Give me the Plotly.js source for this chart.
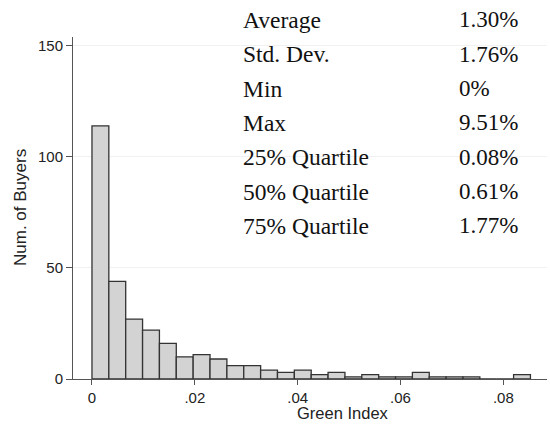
<!DOCTYPE html>
<html>
<head>
<meta charset="utf-8">
<script src="https://cdn.plot.ly/plotly-3.0.1.min.js"></script>
<style>html,body{margin:0;padding:0;background:#fff;}#chart{width:550px;height:430px;}</style>
</head>
<body>
<div id="chart"></div>
<script>
// Histogram bins (Green Index), counts
const binStart = 0;
const binWidth = 0.00328;
const counts = [114, 44, 27, 22, 16, 10, 11, 9, 6, 6, 4, 3, 4, 2, 3, 1, 2, 1, 1, 3, 1, 1, 1, 0, 0, 2];

// Axis ticks
const xTickVals = [0, 0.02, 0.04, 0.06, 0.08];
const xTickText = ["0", ".02", ".04", ".06", ".08"];
const yTickVals = [0, 50, 100, 150];
const yTickText = ["0", "50", "100", "150"];

// Summary statistics table
const statLabels = ["Average", "Std. Dev.", "Min", "Max", "25% Quartile", "50% Quartile", "75% Quartile"];
const statValues = ["1.30%", "1.76%", "0%", "9.51%", "0.08%", "0.61%", "1.77%"];

const binCenters = counts.map((c, i) => binStart + (i + 0.5) * binWidth);

const trace = {
  type: "bar",
  x: binCenters,
  y: counts,
  width: counts.map(() => binWidth),
  marker: { color: "#d3d3d3", line: { color: "#333333", width: 1.3 } },
  hoverinfo: "x+y"
};

// plot area in pixels: x 73..547, y 37..379
const L = 73, R = 3, T = 37, B = 51, W = 550, H = 430;
const pw = W - L - R, ph = H - T - B;
const px = v => (v - L) / pw;
const py = v => (H - B - v) / ph;

const serif = "Liberation Serif, Times New Roman, serif";
const sans = "Liberation Sans, Arial, sans-serif";
const annotations = [];
statLabels.forEach((s, i) => {
  const yc = 20 + i * 34.3;
  annotations.push({ xref: "paper", yref: "paper", x: px(241), y: py(yc), xanchor: "left", yanchor: "middle",
    text: s, showarrow: false, font: { family: serif, size: 23.5, color: "#111" } });
  annotations.push({ xref: "paper", yref: "paper", x: px(457), y: py(yc), xanchor: "left", yanchor: "middle",
    text: statValues[i], showarrow: false, font: { family: serif, size: 23, color: "#111" } });
});
annotations.push({ xref: "paper", yref: "paper", x: px(343), y: py(413), xanchor: "center", yanchor: "middle",
  text: "Green Index", showarrow: false, font: { family: sans, size: 16.5, color: "#222" } });
annotations.push({ xref: "paper", yref: "paper", x: px(20), y: py(208), xanchor: "center", yanchor: "middle",
  text: "Num. of Buyers", textangle: -90, showarrow: false, font: { family: sans, size: 17, color: "#222" } });

const layout = {
  width: W, height: H, autosize: false,
  margin: { l: L, r: R, t: T, b: B, pad: 0 },
  paper_bgcolor: "#ffffff", plot_bgcolor: "#ffffff",
  showlegend: false,
  bargap: 0,
  font: { family: sans, size: 15, color: "#222" },
  xaxis: {
    range: [-0.00369, 0.0885],
    tickvals: xTickVals, ticktext: xTickText,
    ticks: "outside", ticklen: 5, tickcolor: "#555", tickwidth: 1,
    showline: true, linecolor: "#555", linewidth: 1,
    showgrid: false, zeroline: false,
    tickfont: { family: sans, size: 15, color: "#222" }
  },
  yaxis: {
    range: [0, 154],
    tickvals: yTickVals, ticktext: yTickText,
    ticks: "outside", ticklen: 6, tickcolor: "#555", tickwidth: 1,
    showline: true, linecolor: "#555", linewidth: 1,
    showgrid: true, gridcolor: "#f1f1f1", gridwidth: 1,
    zeroline: false,
    tickfont: { family: sans, size: 15, color: "#222" }
  },
  annotations: annotations
};

Plotly.newPlot("chart", [trace], layout, { displayModeBar: false, staticPlot: true });
</script>
</body>
</html>
